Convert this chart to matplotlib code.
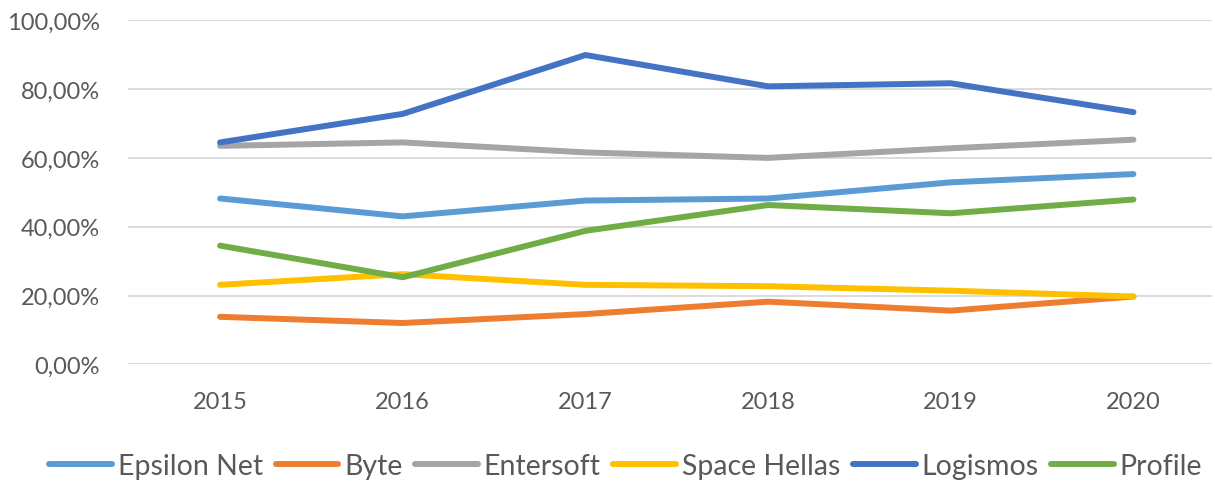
import matplotlib.pyplot as plt
from matplotlib.ticker import FuncFormatter

plt.rcParams['font.family'] = ['Lato', 'DejaVu Sans']

years = ['2015', '2016', '2017', '2018', '2019', '2020']

epsilon_net = [48.2, 43.0, 47.6, 48.2, 52.9, 55.3]
byte = [13.8, 12.0, 14.6, 18.2, 15.6, 19.7]
entersoft = [63.5, 64.5, 61.6, 60.0, 62.8, 65.3]
space_hellas = [23.1, 26.2, 23.1, 22.7, 21.4, 19.7]
logismos = [64.5, 72.8, 89.9, 80.8, 81.7, 73.3]
profile = [34.5, 25.3, 38.8, 46.3, 43.9, 47.9]

series = [
    ('Epsilon Net', epsilon_net, '#5B9BD5'),
    ('Byte', byte, '#ED7D31'),
    ('Entersoft', entersoft, '#A5A5A5'),
    ('Space Hellas', space_hellas, '#FFC000'),
    ('Logismos', logismos, '#4472C4'),
    ('Profile', profile, '#70AD47'),
]

fig = plt.figure(figsize=(12.15, 4.85), dpi=100)
ax = fig.add_axes([128 / 1215, 1 - 365.3 / 485, (1212 - 128) / 1215, (365.3 - 21.3) / 485])

x = range(len(years))
for name, vals, col in series:
    ax.plot(x, vals, color=col, lw=4.3, solid_capstyle='round', solid_joinstyle='round', label=name)

ax.set_ylim(0, 100)
ax.set_xlim(-0.504, 5.43)
ax.set_yticks([0, 20, 40, 60, 80, 100])
ax.yaxis.set_major_formatter(FuncFormatter(lambda v, p: f'{v:.2f}%'.replace('.', ',')))
ax.set_xticks(list(x))
ax.set_xticklabels(years)

ax.grid(axis='y', color='#D9D9D9', lw=1.3)
ax.set_axisbelow(True)
for s in ax.spines.values():
    s.set_visible(False)
ax.tick_params(length=0, labelsize=17, labelcolor='#595959')
ax.tick_params(axis='y', pad=20)
ax.tick_params(axis='x', pad=19)

leg = fig.legend(loc='center', bbox_to_anchor=(0.515, 1 - 467 / 485), ncol=6, frameon=False,
                 fontsize=20.5, handlelength=2.2, handletextpad=0.2, columnspacing=0.45)
for t in leg.get_texts():
    t.set_color('#595959')

fig.savefig('out.png', dpi=100)
